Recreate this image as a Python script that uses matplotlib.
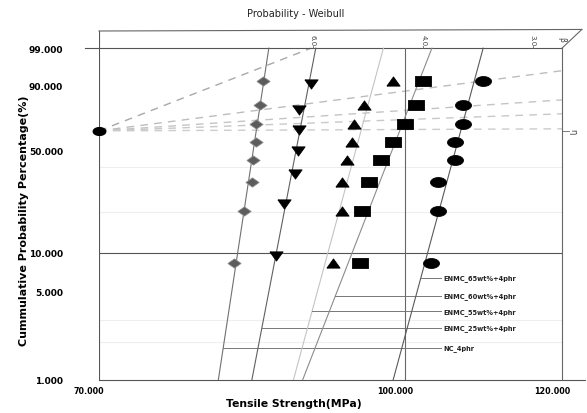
import numpy as np
import matplotlib
matplotlib.use('Agg')
import matplotlib.pyplot as plt
from matplotlib.transforms import ScaledTranslation

# tensile strength (MPa) for each sample, sorted low -> high
nc_4phr = [81.9, 82.9, 83.6, 83.7, 84.0, 84.0, 84.4, 84.7]
enmc_25 = [86.0, 86.8, 87.9, 88.2, 88.4, 88.4, 89.6]
enmc_55 = [91.9, 92.9, 92.9, 93.4, 94.0, 94.2, 95.3, 98.6]
enmc_60 = [94.9, 95.1, 95.9, 97.2, 98.6, 100.0, 101.2, 102.1]
enmc_65 = [103.0, 103.9, 103.9, 105.9, 105.9, 106.9, 106.9, 109.5]

# cumulative probability (%)
prob_8 = [8.3, 20.2, 32.1, 44.0, 56.0, 67.9, 79.8, 91.7]
prob_7 = [9.5, 23.0, 36.5, 50.0, 63.5, 77.0, 90.5]

names = ['NC_4phr', 'ENMC_25wt%+4phr', 'ENMC_55wt%+4phr',
         'ENMC_60wt%+4phr', 'ENMC_65wt%+4phr']

y_ticks = [1, 5, 10, 50, 90, 99]
x_ticks = [70, 100, 120]

# pivot lines (eta/beta estimation) start at 70 MPa, 63.2 %
pivot_x, pivot_p = 70, 63.2
pivot_end_x = [89.6, 120, 120, 120, 120]
pivot_end_p = [99.0, 95.2, 83.0, 74.6, 64.6]

beta_labels = ['6.0', '4.0', '3.0']
beta_pos = [89.8, 102.1, 116.0]


def fwd(p):
    p = np.clip(np.asarray(p, dtype=float), 1e-6, 100 - 1e-6)
    return np.log(-np.log(1 - p / 100.0))


def inv(y):
    return 100.0 * (1 - np.exp(-np.exp(y)))


# flattened marker shapes
t = np.linspace(0, 2 * np.pi, 40)
m_ellipse = list(zip(np.cos(t), 0.62 * np.sin(t)))
m_rect = [(-1, -0.6), (1, -0.6), (1, 0.6), (-1, 0.6), (-1, -0.6)]
m_diam = [(-1, 0), (0, 0.7), (1, 0), (0, -0.7), (-1, 0)]
m_tdown = [(-1, 0.7), (1, 0.7), (0, -0.7), (-1, 0.7)]
m_tup = [(-1, -0.7), (1, -0.7), (0, 0.7), (-1, -0.7)]

series = [
    (nc_4phr, prob_8, m_diam, 9.5, '#5c5c5c', '#8a8a8a', '#707070'),
    (enmc_25, prob_7, m_tdown, 9.5, 'black', 'black', '#606060'),
    (enmc_55, prob_8, m_tup, 9.5, 'black', 'black', '#c4c4c4'),
    (enmc_60, prob_8, m_rect, 11.5, 'black', 'black', '#8c8c8c'),
    (enmc_65, prob_8, m_ellipse, 11.5, 'black', 'black', '#5a5a5a'),
]
legend_p = [1.8, 2.6, 3.5, 4.65, 6.4]
legend_end = 104.2

fig = plt.figure(figsize=(5.87, 4.14), dpi=100)
ax = fig.add_axes([99 / 587, 1 - 381 / 414, 463 / 587, 349 / 414])
ax.set_xscale('log')
ax.set_yscale('function', functions=(fwd, inv))
ax.set_xlim(70, 120)
ax.set_ylim(1, 99.82)
for s in ax.spines.values():
    s.set_visible(False)

# faint background lines
for p in [2, 3, 20, 40]:
    ax.axhline(p, color='#eeeeee', lw=0.8, zorder=0)

# frame / reference lines
ax.plot([70, 70], [1, 99.82], color='#555555', lw=0.8)
ax.plot([70, 123.2], [1, 1], color='#555555', lw=0.8, clip_on=False)
ax.plot([68.9, 120], [99, 99], color='#555555', lw=0.8, clip_on=False)
ax.plot([70, 120], [10, 10], color='#555555', lw=0.8)
ax.plot([100, 100], [1, 99], color='#666666', lw=0.8)
ax.plot([120, 120], [1, 99], color='#666666', lw=0.8, clip_on=False)
ax.plot([70, 122.8], [99.82, 99.85], color='#666666', lw=0.8, clip_on=False)
ax.plot([122.8, 120], [99.85, 99], color='#666666', lw=0.8, clip_on=False)

# pivot lines
pivot_cols = ['#a8a8a8', '#bdbdbd', '#c4c4c4', '#c8c8c8', '#cccccc']
for xe, pe, c in zip(pivot_end_x, pivot_end_p, pivot_cols):
    ax.plot([pivot_x, xe], [pivot_p, pe], color=c, lw=1.0,
            dashes=(5.5, 4.5), zorder=1)
ax.plot([pivot_x], [pivot_p], marker=m_ellipse, ms=9, color='black',
        clip_on=False, zorder=5)

# data, fitted lines and legend lines
y_lo, y_hi = fwd(1), fwd(99)
for (xs, ps, mk, ms, fc, ec, lc), lp, name in zip(series, legend_p, names):
    a, b = np.polyfit(fwd(ps), np.log(xs), 1)
    yy = np.array([y_lo, y_hi])
    ax.plot(np.exp(a * yy + b), inv(yy), color=lc, lw=0.8, zorder=2)
    ax.plot(xs, ps, linestyle='none', marker=mk, ms=ms, mfc=fc, mec=ec,
            mew=0.6, zorder=4)
    x0 = np.exp(a * fwd(lp) + b)
    ax.plot([x0, legend_end], [lp, lp], color='#777777', lw=0.7, zorder=2)
    ax.text(legend_end + 0.3, lp, name, fontsize=4.8, fontweight='bold',
            va='center', ha='left', color='#222222')

# ticks
ax.set_yticks(y_ticks)
ax.set_yticklabels(['%.3f' % v for v in y_ticks], fontsize=6.5,
                   fontweight='bold')
ax.tick_params(axis='y', length=0, pad=26)
ax.yaxis.set_minor_locator(matplotlib.ticker.NullLocator())
ax.set_xticks(x_ticks)
ax.set_xticklabels(['%.3f' % v for v in x_ticks], fontsize=5.8,
                   fontweight='bold')
ax.xaxis.set_minor_locator(matplotlib.ticker.NullLocator())
ax.tick_params(axis='x', length=0, pad=4)
for lab in ax.get_xticklabels():
    lab.set_transform(lab.get_transform() +
                      ScaledTranslation(-10 / 100, 0, fig.dpi_scale_trans))

# beta scale on top
for lab, xb in zip(beta_labels, beta_pos):
    ax.plot([xb, xb], [99, 99.2], color='#666666', lw=0.6, clip_on=False)
    ax.text(xb, 99.55, lab, fontsize=5, rotation=270, ha='center',
            va='center', color='#444444')
ax.text(120, 99.6, '\u03b2', fontsize=5.5, rotation=270, ha='center',
        va='center', color='#444444')
ax.plot([120, 121], [63.2, 63.2], color='#666666', lw=0.6, clip_on=False)
ax.text(121.5, 63.2, '\u03b7', fontsize=6, rotation=270, ha='center',
        va='center', color='#444444')

fig.text(296 / 587, 1 - 14 / 414, 'Probability - Weibull', fontsize=7,
         ha='center', va='center', color='#222222')
fig.text(294 / 587, 1 - 404 / 414, 'Tensile Strength(MPa)', fontsize=7.8,
         fontweight='bold', ha='center', va='center')
fig.text(24 / 587, 1 - 221 / 414, 'Cummulative Probability Percentage(%)',
         fontsize=8, fontweight='bold', rotation=90, ha='center',
         va='center')

fig.savefig('out.png', dpi=100)
